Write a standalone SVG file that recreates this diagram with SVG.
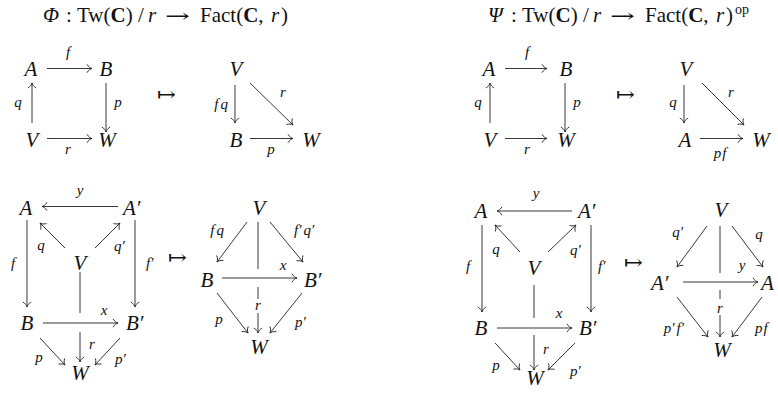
<svg xmlns="http://www.w3.org/2000/svg" width="778" height="398" viewBox="0 0 778 398">
<style>
text { font-family: "Liberation Serif", "Times New Roman", serif; fill: #111; }
.n { font-style: italic; font-size: 21px; text-anchor: middle; }
.np { font-style: italic; font-size: 21px; }
.l { font-style: italic; font-size: 15px; text-anchor: middle; }
.ls { font-style: italic; font-size: 15px; }
.le { font-style: italic; font-size: 15px; text-anchor: end; }
.t { font-size: 21px; }
.i { font-style: italic; }
.b { font-weight: bold; }
.mt { font-family: "DejaVu Serif", serif; font-size: 20px; }
.ta { font-family: "DejaVu Serif", serif; font-size: 18px; }
.e { fill: none; stroke: #222; stroke-width: 0.9; }
.a { marker-end: url(#ah); }
</style>
<defs>
<marker id="ah" viewBox="-7 -6 9 12" markerWidth="9" markerHeight="12" refX="0" refY="0" orient="auto" markerUnits="userSpaceOnUse">
<path d="M-5,-4.2 C-3.6,-1.6 -1.6,-0.5 0,0 C-1.6,0.5 -3.6,1.6 -5,4.2" fill="none" stroke="#222" stroke-width="0.9"/>
</marker>
</defs>

<g id="title-phi">
<text class="t i" x="43" y="22">Φ</text>
<text class="t" x="66" y="22">:</text>
<text class="t" x="77" y="22">Tw(<tspan class="b">C</tspan>)</text>
<text class="t" x="138" y="22">/</text>
<text class="t i" x="148" y="22">r</text>
<text class="ta" x="165" y="22" textLength="25" lengthAdjust="spacingAndGlyphs">→</text>
<text class="t" x="200" y="22">Fact(<tspan class="b">C</tspan>,</text>
<text class="t i" x="271" y="22">r</text>
<text class="t" x="281" y="22">)</text>
</g>
<g id="title-psi">
<text class="t i" x="488" y="22">Ψ</text>
<text class="t" x="511" y="22">:</text>
<text class="t" x="522" y="22">Tw(<tspan class="b">C</tspan>)</text>
<text class="t" x="583" y="22">/</text>
<text class="t i" x="593" y="22">r</text>
<text class="ta" x="610" y="22" textLength="25" lengthAdjust="spacingAndGlyphs">→</text>
<text class="t" x="645" y="22">Fact(<tspan class="b">C</tspan>,</text>
<text class="t i" x="716" y="22">r</text>
<text class="t" x="726" y="22">)</text>
<text x="735" y="14" font-size="14">op</text>
</g>

<g id="connectors">
<!-- diagram 1 -->
<path class="e a" d="M47,68.5 H92"/>
<path class="e a" d="M32,123 V83"/>
<path class="e a" d="M106,83 V132"/>
<path class="e a" d="M47,138.5 H92"/>
<!-- diagram 2 -->
<path class="e a" d="M235,85 V123"/>
<path class="e a" d="M250,83 L293,125"/>
<path class="e a" d="M250,138.5 H293"/>
<!-- diagram 3 -->
<path class="e a" d="M505,68.5 H547"/>
<path class="e a" d="M490,123 V83"/>
<path class="e a" d="M565,83 V132"/>
<path class="e a" d="M505,138.5 H547"/>
<!-- diagram 4 -->
<path class="e a" d="M684,85 V123"/>
<path class="e a" d="M702,83 L744,125"/>
<path class="e a" d="M700,138.5 H743"/>
<!-- diagram 5 -->
<path class="e a" d="M118,206.5 H42"/>
<path class="e a" d="M65,248 L40,223"/>
<path class="e a" d="M95,248 L120,223"/>
<path class="e a" d="M27,220 V307"/>
<path class="e a" d="M135,220 V307"/>
<path class="e a" d="M43,323 H118"/>
<path class="e" d="M80,272 V313"/>
<path class="e a" d="M80,332 V362"/>
<path class="e a" d="M40,338 L65,365"/>
<path class="e a" d="M120,338 L95,365"/>
<!-- diagram 6 -->
<path class="e a" d="M247,222 L217,262"/>
<path class="e a" d="M270,222 L303,262"/>
<path class="e" d="M258,222 V269"/>
<path class="e a" d="M222,278 H297"/>
<path class="e" d="M258,287 V299"/>
<path class="e a" d="M258,313 V333"/>
<path class="e a" d="M217,293 L248,333"/>
<path class="e a" d="M302,293 L270,333"/>
<!-- diagram 7 -->
<path class="e a" d="M572,211 H497"/>
<path class="e a" d="M520,252 L495,225"/>
<path class="e a" d="M548,252 L576,225"/>
<path class="e a" d="M482,225 V312"/>
<path class="e a" d="M591,225 V312"/>
<path class="e a" d="M497,328 H572"/>
<path class="e" d="M534,285 V318"/>
<path class="e a" d="M534,335 V370"/>
<path class="e a" d="M495,343 L520,370"/>
<path class="e a" d="M575,343 L548,370"/>
<!-- diagram 8 -->
<path class="e a" d="M707,226 L677,267"/>
<path class="e a" d="M732,226 L763,267"/>
<path class="e" d="M720,226 V273"/>
<path class="e a" d="M683,282 H758"/>
<path class="e" d="M720,290 V299"/>
<path class="e a" d="M720,315 V337"/>
<path class="e a" d="M677,297 L708,337"/>
<path class="e a" d="M762,297 L732,337"/>
</g>

<g id="labels">
<!-- diagram 1 -->
<text class="l" x="68" y="57">f</text>
<text class="l" x="18" y="107">q</text>
<text class="l" x="118" y="107">p</text>
<text class="l" x="68" y="154">r</text>
<!-- diagram 2 -->
<text class="le" x="228" y="109">f<tspan dx="2">q</tspan></text>
<text class="l" x="283" y="97">r</text>
<text class="l" x="271" y="154">p</text>
<!-- diagram 3 -->
<text class="l" x="527" y="57">f</text>
<text class="l" x="478" y="107">q</text>
<text class="l" x="577" y="107">p</text>
<text class="l" x="527" y="154">r</text>
<!-- diagram 4 -->
<text class="l" x="673" y="107">q</text>
<text class="l" x="731" y="97">r</text>
<text class="l" x="720" y="158">p<tspan dx="1">f</tspan></text>
<!-- diagram 5 -->
<text class="l" x="80" y="195">y</text>
<text class="l" x="41" y="250">q</text>
<text class="ls" x="114" y="251">q′</text>
<text class="l" x="13" y="268">f</text>
<text class="ls" x="146" y="268">f′</text>
<text class="l" x="104" y="315">x</text>
<text class="l" x="92" y="349">r</text>
<text class="l" x="39" y="362">p</text>
<text class="ls" x="115" y="364">p′</text>
<!-- diagram 6 -->
<text class="le" x="224" y="235">f<tspan dx="2">q</tspan></text>
<text class="ls" x="294" y="235">f′<tspan dx="2">q′</tspan></text>
<text class="l" x="283" y="270">x</text>
<text class="l" x="258" y="310">r</text>
<text class="l" x="219" y="324">p</text>
<text class="ls" x="295" y="327">p′</text>
<!-- diagram 7 -->
<text class="l" x="536" y="198">y</text>
<text class="l" x="496" y="254">q</text>
<text class="ls" x="570" y="255">q′</text>
<text class="l" x="468" y="271">f</text>
<text class="ls" x="598" y="271">f′</text>
<text class="l" x="559" y="318">x</text>
<text class="l" x="546" y="354">r</text>
<text class="l" x="496" y="370">p</text>
<text class="ls" x="570" y="376">p′</text>
<!-- diagram 8 -->
<text class="le" x="683" y="237">q′</text>
<text class="l" x="759" y="239">q</text>
<text class="l" x="742" y="270">y</text>
<text class="l" x="720" y="313">r</text>
<text class="le" x="684" y="333">p′<tspan dx="2">f′</tspan></text>
<text class="ls" x="755" y="333">p<tspan dx="1">f</tspan></text>
</g>

<g id="maps">
<text class="mt" x="157" y="101" textLength="19" lengthAdjust="spacingAndGlyphs">↦</text>
<text class="mt" x="616" y="101" textLength="19" lengthAdjust="spacingAndGlyphs">↦</text>
<text class="mt" x="168" y="264" textLength="19" lengthAdjust="spacingAndGlyphs">↦</text>
<text class="mt" x="624" y="269" textLength="19" lengthAdjust="spacingAndGlyphs">↦</text>
</g>

<!-- diagram 1 nodes -->
<g id="d1-A"><text class="n" x="31" y="76">A</text></g>
<g id="d1-B"><text class="n" x="106" y="76">B</text></g>
<g id="d1-V"><text class="n" x="32" y="147">V</text></g>
<g id="d1-W"><text class="n" x="107" y="147">W</text></g>
<!-- diagram 2 nodes -->
<g id="d2-V"><text class="n" x="236" y="76">V</text></g>
<g id="d2-B"><text class="n" x="236" y="147">B</text></g>
<g id="d2-W"><text class="n" x="311" y="147">W</text></g>
<!-- diagram 3 nodes -->
<g id="d3-A"><text class="n" x="489" y="76">A</text></g>
<g id="d3-B"><text class="n" x="566" y="76">B</text></g>
<g id="d3-V"><text class="n" x="490" y="147">V</text></g>
<g id="d3-W"><text class="n" x="566" y="147">W</text></g>
<!-- diagram 4 nodes -->
<g id="d4-V"><text class="n" x="686" y="76">V</text></g>
<g id="d4-A"><text class="n" x="685" y="147">A</text></g>
<g id="d4-W"><text class="n" x="761" y="147">W</text></g>
<!-- diagram 5 nodes -->
<g id="d5-A"><text class="n" x="26" y="215">A</text></g>
<g id="d5-A2"><text class="np" x="123" y="215">A′</text></g>
<g id="d5-V"><text class="n" x="80" y="270">V</text></g>
<g id="d5-B"><text class="n" x="27" y="330">B</text></g>
<g id="d5-B2"><text class="np" x="126" y="330">B′</text></g>
<g id="d5-W"><text class="n" x="80" y="380">W</text></g>
<!-- diagram 6 nodes -->
<g id="d6-V"><text class="n" x="259" y="215">V</text></g>
<g id="d6-B"><text class="n" x="207" y="287">B</text></g>
<g id="d6-B2"><text class="np" x="304" y="287">B′</text></g>
<g id="d6-W"><text class="n" x="259" y="354">W</text></g>
<!-- diagram 7 nodes -->
<g id="d7-A"><text class="n" x="481" y="218">A</text></g>
<g id="d7-A2"><text class="np" x="578" y="218">A′</text></g>
<g id="d7-V"><text class="n" x="534" y="275">V</text></g>
<g id="d7-B"><text class="n" x="481" y="335">B</text></g>
<g id="d7-B2"><text class="np" x="579" y="335">B′</text></g>
<g id="d7-W"><text class="n" x="535" y="385">W</text></g>
<!-- diagram 8 nodes -->
<g id="d8-V"><text class="n" x="721" y="217">V</text></g>
<g id="d8-A2"><text class="np" x="651" y="290">A′</text></g>
<g id="d8-A"><text class="np" x="761" y="290">A</text></g>
<g id="d8-W"><text class="n" x="722" y="357">W</text></g>
</svg>
